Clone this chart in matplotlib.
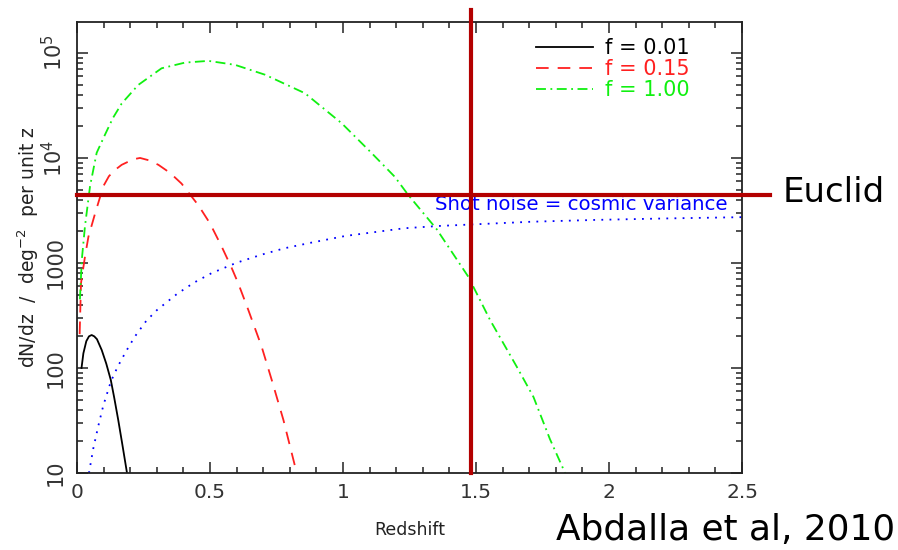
import matplotlib
matplotlib.use("Agg")
import matplotlib.pyplot as plt
from matplotlib.ticker import FixedLocator, MultipleLocator, LogLocator, NullFormatter

plt.rcParams['font.family'] = ['DejaVu Sans']
plt.rcParams['mathtext.fontset'] = 'dejavusans'

# ---- data ----
z_f001 = [0.017, 0.024, 0.035, 0.045, 0.055, 0.065, 0.075, 0.093, 0.11, 0.127, 0.14, 0.155, 0.17, 0.188]
n_f001 = [100, 138, 180, 200, 206, 200, 188, 148, 110, 77, 52, 32, 19, 10]

z_f015 = [0.01, 0.015, 0.03, 0.043, 0.068, 0.099, 0.12, 0.143, 0.168, 0.193, 0.215, 0.237, 0.27, 0.306,
          0.35, 0.393, 0.456, 0.50, 0.544, 0.582, 0.606, 0.644, 0.694, 0.732, 0.776, 0.826]
n_f015 = [210, 640, 1150, 1780, 2960, 5380, 6700, 7690, 8600, 9220, 9750, 10000, 9500, 8600,
          7200, 5700, 3550, 2380, 1430, 890, 641, 357, 160, 77, 32, 10]

z_f100 = [0.011, 0.018, 0.03, 0.049, 0.074, 0.105, 0.135, 0.168, 0.23, 0.318, 0.406, 0.494, 0.594,
          0.707, 0.857, 0.995, 1.108, 1.195, 1.245, 1.352, 1.471, 1.553, 1.653, 1.716, 1.778, 1.835]
n_f100 = [450, 1070, 2240, 5380, 11200, 16600, 24000, 33000, 49500, 71400, 80900, 84000, 77000,
          62000, 41300, 21400, 11100, 6600, 4450, 2100, 740, 286, 103, 53, 21, 10]

z_shot = [0.045, 0.061, 0.08, 0.099, 0.127, 0.153, 0.185, 0.218, 0.26, 0.30, 0.375, 0.44, 0.506, 0.60,
          0.694, 0.78, 0.88, 1.01, 1.23, 1.36, 1.71, 1.95, 2.2, 2.5]
n_shot = [10, 17, 28, 44, 74, 103, 145, 200, 280, 355, 505, 650, 800, 1005,
          1200, 1380, 1560, 1810, 2140, 2250, 2470, 2570, 2650, 2730]

legend_labels = ['f = 0.01', 'f = 0.15', 'f = 1.00']
shot_label = 'Shot noise = cosmic variance'
euclid_z = 1.483
euclid_n = 4450
x_ticks = [0, 0.5, 1, 1.5, 2, 2.5]
x_ticklabels = ['0', '0.5', '1', '1.5', '2', '2.5']
y_ticks = [10, 100, 1000, 1e4, 1e5]
y_ticklabels = ['10', '100', '1000', r'$10^4$', r'$10^5$']

# ---- figure ----
W, H = 898, 550
fig = plt.figure(figsize=(W / 100, H / 100), dpi=100)
L, R, T, B = 77, 742, 22, 473
ax = fig.add_axes([L / W, 1 - B / H, (R - L) / W, (B - T) / H])

lw = 1.3
ax.plot(z_f001, n_f001, color='black', lw=lw, label=legend_labels[0])
ax.plot(z_f015, n_f015, color='#ff2020', lw=lw, dashes=(7, 5), label=legend_labels[1])
ax.plot(z_f100, n_f100, color='#10f010', lw=lw, dashes=(5.5, 2.5, 1, 2.5), label=legend_labels[2])
ax.plot(z_shot, n_shot, color='#0000ff', lw=lw, dashes=(1, 3.5))

ax.set_yscale('log')
ax.set_xlim(0, 2.5)
ax.set_ylim(10, 1.97e5)

ax.xaxis.set_major_locator(FixedLocator(x_ticks))
ax.set_xticklabels(x_ticklabels)
ax.xaxis.set_minor_locator(MultipleLocator(0.1))
ax.yaxis.set_major_locator(FixedLocator(y_ticks))
ax.set_yticklabels(y_ticklabels, rotation=90, va='center')
ax.yaxis.set_minor_locator(LogLocator(base=10, subs=range(2, 10)))
ax.yaxis.set_minor_formatter(NullFormatter())

ax.tick_params(which='both', direction='in', top=True, right=True, width=1.1, colors='#222222',
               labelcolor='#333333')
ax.tick_params(which='major', length=8)
ax.tick_params(which='minor', length=4.5)
ax.tick_params(axis='x', which='major', labelsize=14.5, pad=7)
ax.tick_params(axis='y', which='major', labelsize=15, pad=8)
for s in ax.spines.values():
    s.set_linewidth(1.3)
    s.set_color('#222222')

ax.set_xlabel('Redshift', fontsize=12.5, color='#222222', va='center')
ax.xaxis.set_label_coords(0.5, -(530 - B) / (B - T))
ax.set_ylabel(r'dN/dz  /  deg$^{-2}$  per unit z', fontsize=13.5, color='#222222', va='center')
ax.yaxis.set_label_coords(-(L - 28) / (R - L), 0.5)

leg = ax.legend(loc='upper right', bbox_to_anchor=(0.937, 0.987), frameon=False, fontsize=15,
                handlelength=2.7, handletextpad=0.6, labelspacing=0.05, borderpad=0,
                labelcolor='linecolor')

ax.text(2.447, 3570, shot_label, color='#0000ff', fontsize=14.2, ha='right', va='center')

# Euclid markers
red = '#b30000'
ax.axvline(euclid_z, ymin=0, ymax=1.027, color=red, lw=3, clip_on=False, zorder=5)
ax.axhline(euclid_n, xmin=0, xmax=1.042, color=red, lw=3, clip_on=False, zorder=5)

fig.text(783 / W, 1 - 193 / H, 'Euclid', family='DejaVu Sans', fontsize=24.5, va='center', ha='left')
fig.text(895 / W, 1 - 530 / H, 'Abdalla et al, 2010', family='DejaVu Sans', fontsize=25.8,
         va='center', ha='right')

fig.savefig('out.png', dpi=100)
